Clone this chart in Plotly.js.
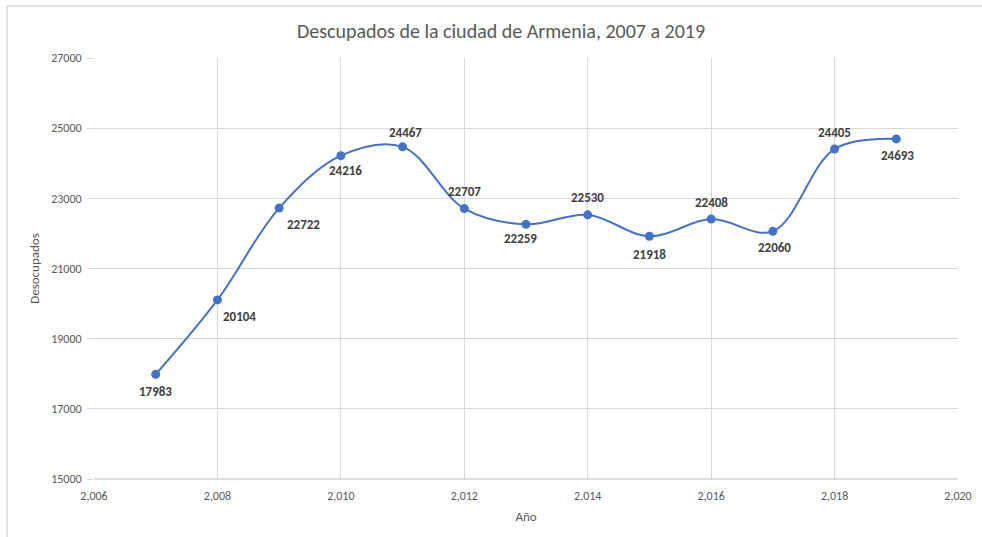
<!DOCTYPE html>
<html>
<head>
<meta charset="utf-8">
<script src="https://cdn.plot.ly/plotly-3.0.1.min.js"></script>
<style>html,body{margin:0;padding:0;background:#fff;}#chart{width:982px;height:537px;}</style>
</head>
<body>
<div id="chart"></div>
<script>
var years = [2007, 2008, 2009, 2010, 2011, 2012, 2013, 2014, 2015, 2016, 2017, 2018, 2019];
var desocupados = [17983, 20104, 22722, 24216, 24467, 22707, 22259, 22530, 21918, 22408, 22060, 24405, 24693];
// label offsets (px) relative to each point, as placed in the reference
var labelDx = [0, 22, 24, 5, 3, 0, -6, 0, 0, 0, 2, 0, 1];
var labelDy = [-17, -17, -16, -15, 14, 17, -14, 17, -18, 17, -16, 17, -17];
var yTicks = [15000, 17000, 19000, 21000, 23000, 25000, 27000];

var FONT = "Carlito, Lato, 'Open Sans', sans-serif";
var L = 94, R = 958, T = 58, B = 479, W = 982, H = 537;
function px(x){ return (x - L) / (R - L); }
function py(y){ return (B - y) / (B - T); }

var trace = {
  x: years, y: desocupados, type: 'scatter', mode: 'lines+markers',
  line: {color: '#4472C4', width: 2, shape: 'spline', smoothing: 1},
  marker: {color: '#4472C4', size: 9},
  cliponaxis: false,
  hoverinfo: 'x+y'
};

var annotations = years.map(function(yr, i){
  return {x: yr, y: desocupados[i], xref: 'x', yref: 'y', text: String(desocupados[i]),
    showarrow: false, xanchor: 'center', yanchor: 'middle',
    xshift: labelDx[i], yshift: labelDy[i],
    font: {family: FONT, size: 13, color: '#404040', weight: 'bold'}};
});

var layout = {
  width: W, height: H,
  margin: {l: L, r: W - R, t: T, b: H - B},
  paper_bgcolor: '#fff', plot_bgcolor: '#fff',
  showlegend: false,
  font: {family: FONT, color: '#595959', size: 12},
  title: {text: 'Descupados de la ciudad de Armenia, 2007 a 2019', font: {family: FONT, size: 20, color: '#595959'},
    x: px(501), xref: 'paper', xanchor: 'center', y: 1 - 31 / H, yanchor: 'middle'},
  xaxis: {range: [2006, 2020], dtick: 2, tick0: 2006, tickformat: ',d',
    showgrid: true, gridcolor: '#d9d9d9', gridwidth: 1, zeroline: false,
    showline: false, ticks: '', ticklabelstandoff: 8, tickfont: {size: 12, color: '#595959', family: FONT},
    title: {text: 'Año', font: {size: 13, color: '#595959', family: FONT}, standoff: 9}},
  yaxis: {range: [15000, 27000], tickvals: yTicks, ticktext: yTicks.map(String),
    showgrid: true, gridcolor: '#d9d9d9', gridwidth: 1, zeroline: false,
    showline: false, ticks: 'outside', ticklen: 6, tickcolor: '#d9d9d9', tickwidth: 1,
    ticklabelstandoff: 3,
    tickfont: {size: 12, color: '#595959', family: FONT},
    title: {text: 'Desocupados', font: {size: 13, color: '#595959', family: FONT}, standoff: 8}},
  annotations: annotations,
  shapes: [
    {type: 'line', xref: 'paper', yref: 'paper', x0: px(7), x1: px(982), y0: py(6), y1: py(6), line: {color: '#d9d9d9', width: 1.5}},
    {type: 'line', xref: 'paper', yref: 'paper', x0: px(7), x1: px(7), y0: py(6), y1: py(537), line: {color: '#d9d9d9', width: 1.5}},
    {type: 'line', xref: 'paper', yref: 'paper', x0: 0, x1: 1, y0: 0, y1: 0, line: {color: '#bfbfbf', width: 1}, layer: 'above'}
  ]
};

Plotly.newPlot('chart', [trace], layout, {displayModeBar: false, staticPlot: true});
</script>
</body>
</html>
